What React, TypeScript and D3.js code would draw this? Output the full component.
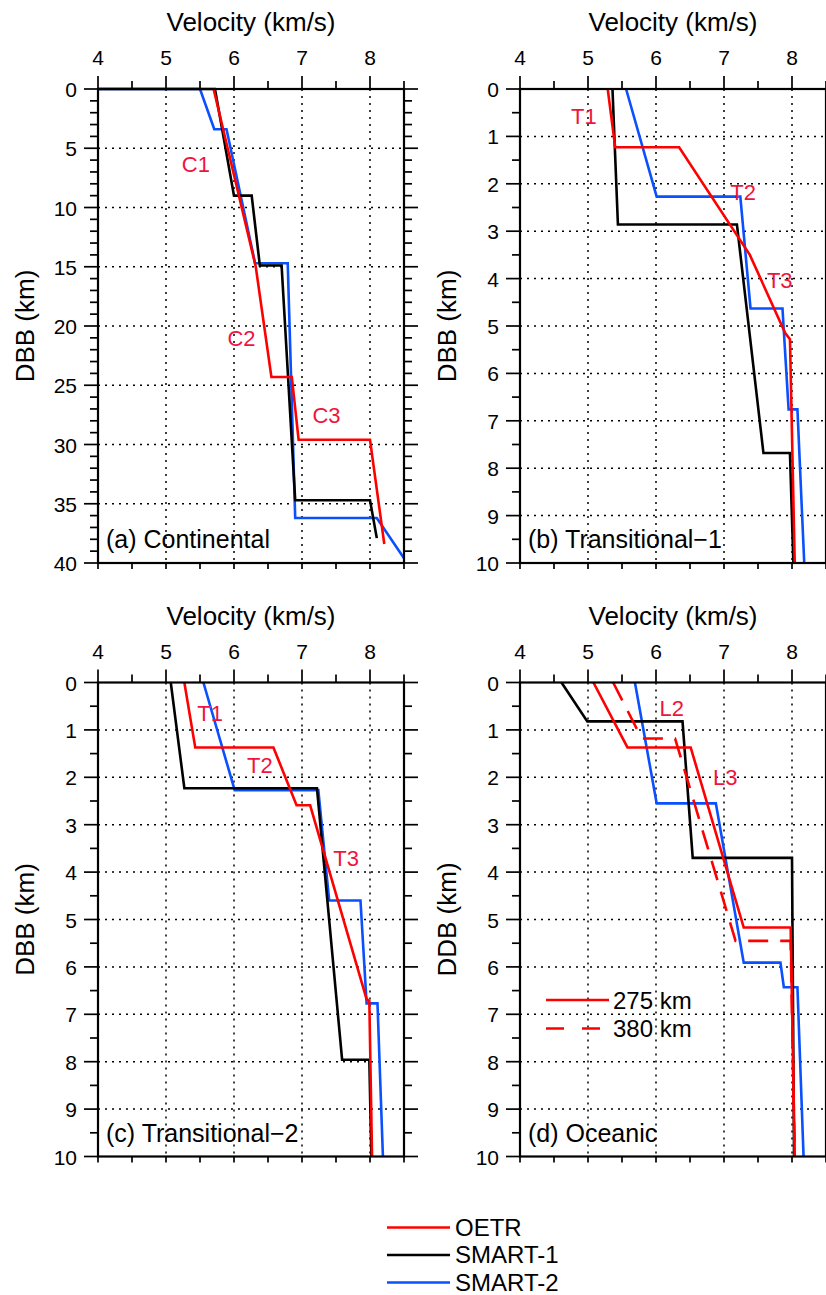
import React from "react";
import * as d3 from "d3";

type Pt = [number, number]; // [velocity km/s, depth km]

const FONT = "'Liberation Sans', Arial, Helvetica, sans-serif";
const RED = "#ff0000";
const BLACK = "#000000";
const BLUE = "#0a50ff";
const LABEL_RED = "#f0143c";
const LINE_W = 2.6;

const velocityDomain: [number, number] = [4, 8.5];
const velocityTicks = [4, 5, 6, 7, 8];
const continentalDepthTicks = [0, 5, 10, 15, 20, 25, 30, 35, 40];
const basinDepthTicks = [0, 1, 2, 3, 4, 5, 6, 7, 8, 9, 10];

// (a) Continental
const continentalOETR: Pt[] = [[5.7, 0], [6.32, 15], [6.55, 24.3], [6.85, 24.3], [6.95, 29.6], [8.0, 29.6], [8.21, 38.4]];
const continentalSMART1: Pt[] = [[4, 0], [5.72, 0], [6.0, 9], [6.26, 9], [6.38, 14.9], [6.7, 14.9], [6.9, 34.7], [8.0, 34.7], [8.1, 37.9]];
const continentalSMART2: Pt[] = [[4, 0], [5.5, 0], [5.71, 3.4], [5.89, 3.4], [6.31, 14.7], [6.79, 14.7], [6.9, 36.2], [8.1, 36.2], [8.5, 39.6]];

// (b) Transitional-1
const trans1OETR: Pt[] = [[5.29, 0], [5.4, 1.23], [6.34, 1.23], [7.38, 3.5], [7.9, 5.15], [7.97, 5.28], [8.04, 10]];
const trans1SMART1: Pt[] = [[5.36, 0], [5.44, 2.86], [7.19, 2.86], [7.58, 7.68], [7.97, 7.68], [8.02, 10]];
const trans1SMART2: Pt[] = [[5.56, 0], [6.01, 2.27], [7.24, 2.27], [7.39, 4.63], [7.86, 4.63], [7.95, 6.76], [8.08, 6.76], [8.18, 10]];

// (c) Transitional-2
const trans2OETR: Pt[] = [[5.27, 0], [5.43, 1.37], [6.58, 1.37], [6.92, 2.59], [7.12, 2.59], [7.95, 6.68], [7.99, 6.72], [8.03, 10]];
const trans2SMART1: Pt[] = [[5.07, 0], [5.27, 2.23], [7.22, 2.23], [7.59, 7.96], [7.99, 7.96], [8.02, 10]];
const trans2SMART2: Pt[] = [[5.55, 0], [6.01, 2.27], [7.24, 2.27], [7.4, 4.6], [7.86, 4.6], [7.95, 6.77], [8.11, 6.77], [8.19, 10]];

// (d) Oceanic
const oceanicOETR275: Pt[] = [[5.08, 0], [5.58, 1.37], [6.51, 1.37], [7.29, 5.17], [7.98, 5.17], [8.04, 10]];
const oceanicOETR380: Pt[] = [[5.37, 0], [5.79, 1.18], [6.28, 1.18], [7.17, 5.45], [7.98, 5.45], [8.04, 10]];
const oceanicSMART1: Pt[] = [[4.61, 0], [4.99, 0.82], [6.39, 0.82], [6.54, 3.7], [8.0, 3.7], [8.03, 10]];
const oceanicSMART2: Pt[] = [[5.69, 0], [6.01, 2.55], [6.88, 2.55], [7.29, 5.91], [7.83, 5.91], [7.88, 6.43], [8.08, 6.43], [8.17, 10]];

// layer annotations: [text, velocity, depth]
type Note = [string, number, number];
const continentalNotes: Note[] = [["C1", 5.44, 6.3], ["C2", 6.11, 21.0], ["C3", 7.36, 27.5]];
const trans1Notes: Note[] = [["T1", 4.94, 0.57], ["T2", 7.28, 2.17], ["T3", 7.82, 4.03]];
const trans2Notes: Note[] = [["T1", 5.65, 0.65], ["T2", 6.38, 1.74], ["T3", 7.65, 3.71]];
const oceanicNotes: Note[] = [["L2", 6.23, 0.54], ["L3", 7.02, 1.99]];

const legendNames = ["OETR", "SMART-1", "SMART-2"];
const legendColors = [RED, BLACK, BLUE];

interface Series {
  pts: Pt[];
  color: string;
  dash?: string;
}

interface PanelProps {
  x0: number;
  y0: number;
  depthTicks: number[];
  minorStep: number;
  series: Series[];
  notes: Note[];
  caption: string;
  yLabel: string;
  children?: React.ReactNode;
}

const W = 306;
const H = 474;

function Panel({ x0, y0, depthTicks, minorStep, series, notes, caption, yLabel, children }: PanelProps) {
  const maxD = depthTicks[depthTicks.length - 1];
  const x = d3.scaleLinear().domain(velocityDomain).range([x0, x0 + W]);
  const y = d3.scaleLinear().domain([0, maxD]).range([y0, y0 + H]);
  const line = d3.line<Pt>().x((p) => x(p[0])).y((p) => y(p[1]));

  const xMinor = d3.range(velocityDomain[0], velocityDomain[1] + 0.001, 0.5);
  const yMinor = d3.range(0, maxD + 0.001, minorStep);
  const x1 = x0 + W;
  const y1 = y0 + H;
  const isMajorX = (v: number) => Math.abs(v - Math.round(v)) < 1e-6 && v <= 8;
  const isMajorY = (d: number) => depthTicks.some((t) => Math.abs(t - d) < 1e-6);

  return (
    <g>
      {/* grid */}
      {velocityTicks.filter((v) => v > velocityDomain[0]).map((v) => (
        <line key={"gx" + v} x1={x(v)} x2={x(v)} y1={y0} y2={y1} stroke="#000" strokeWidth={1.5} strokeDasharray="2,5" />
      ))}
      {depthTicks.filter((d) => d > 0 && d < maxD).map((d) => (
        <line key={"gy" + d} x1={x0} x2={x1} y1={y(d)} y2={y(d)} stroke="#000" strokeWidth={1.5} strokeDasharray="2,5" />
      ))}

      {/* profiles */}
      {series.map((s, i) => (
        <path key={"s" + i} d={line(s.pts) || ""} fill="none" stroke={s.color} strokeWidth={LINE_W}
          strokeDasharray={s.dash} strokeLinejoin="miter" />
      ))}

      {/* frame */}
      <rect x={x0} y={y0} width={W} height={H} fill="none" stroke="#000" strokeWidth={2.2} />

      {/* ticks: top & bottom */}
      {xMinor.map((v) => (
        <g key={"tx" + v}>
          <line x1={x(v)} x2={x(v)} y1={y0} y2={y0 - (isMajorX(v) ? 13 : 8)} stroke="#000" strokeWidth={1.7} />
          <line x1={x(v)} x2={x(v)} y1={y1} y2={y1 + 6} stroke="#000" strokeWidth={1.7} />
        </g>
      ))}
      {/* ticks: left & right */}
      {yMinor.map((d) => (
        <g key={"ty" + d}>
          <line x1={x0} x2={x0 - (isMajorY(d) ? 14 : 8)} y1={y(d)} y2={y(d)} stroke="#000" strokeWidth={1.7} />
          <line x1={x1} x2={x1 + (isMajorY(d) ? 14 : 8)} y1={y(d)} y2={y(d)} stroke="#000" strokeWidth={1.7} />
        </g>
      ))}

      {/* tick labels */}
      {velocityTicks.map((v) => (
        <text key={"lx" + v} x={x(v)} y={y0 - 24} textAnchor="middle" fontSize={21} fontFamily={FONT}>{v}</text>
      ))}
      {depthTicks.map((d) => (
        <text key={"ly" + d} x={x0 - 21} y={y(d) + 8} textAnchor="end" fontSize={21} fontFamily={FONT}>{d}</text>
      ))}

      {/* axis titles */}
      <text x={(x0 + x1) / 2} y={y0 - 58} textAnchor="middle" fontSize={26} fontFamily={FONT}>Velocity (km/s)</text>
      <text transform={`translate(${x0 - 64},${(y0 + y1) / 2}) rotate(-90)`} textAnchor="middle" fontSize={26} fontFamily={FONT}>{yLabel}</text>

      {/* layer annotations */}
      {notes.map(([t, v, d]) => (
        <text key={"n" + t} x={x(v)} y={y(d) + 8} textAnchor="middle" fontSize={22} fill={LABEL_RED} fontFamily={FONT}>{t}</text>
      ))}

      <text x={x0 + 8} y={y1 - 15} fontSize={25} fontFamily={FONT}>{caption}</text>
      {children}
    </g>
  );
}

export default function App() {
  const ax = 98, bx = 520, topY = 89, lowY = 682.5;
  return (
    <svg width={826} height={1295} style={{ position: "absolute", left: 0, top: 0, background: "#fff" }}>
      <rect width={826} height={1295} fill="#fff" />
      <Panel x0={ax} y0={topY} depthTicks={continentalDepthTicks} minorStep={1}
        series={[
          { pts: continentalSMART2, color: BLUE },
          { pts: continentalSMART1, color: BLACK },
          { pts: continentalOETR, color: RED },
        ]}
        notes={continentalNotes} caption="(a) Continental" yLabel="DBB (km)" />
      <Panel x0={bx} y0={topY} depthTicks={basinDepthTicks} minorStep={0.5}
        series={[
          { pts: trans1SMART2, color: BLUE },
          { pts: trans1SMART1, color: BLACK },
          { pts: trans1OETR, color: RED },
        ]}
        notes={trans1Notes} caption="(b) Transitional−1" yLabel="DBB (km)" />
      <Panel x0={ax} y0={lowY} depthTicks={basinDepthTicks} minorStep={0.5}
        series={[
          { pts: trans2SMART2, color: BLUE },
          { pts: trans2SMART1, color: BLACK },
          { pts: trans2OETR, color: RED },
        ]}
        notes={trans2Notes} caption="(c) Transitional−2" yLabel="DBB (km)" />
      <Panel x0={bx} y0={lowY} depthTicks={basinDepthTicks} minorStep={0.5}
        series={[
          { pts: oceanicSMART2, color: BLUE },
          { pts: oceanicSMART1, color: BLACK },
          { pts: oceanicOETR380, color: RED, dash: "20,12" },
          { pts: oceanicOETR275, color: RED },
        ]}
        notes={oceanicNotes} caption="(d) Oceanic" yLabel="DDB (km)">
        {/* OETR lithosphere thickness key */}
        <line x1={bx + 26} x2={bx + 89} y1={lowY + 317.5} y2={lowY + 317.5} stroke={RED} strokeWidth={LINE_W} />
        <text x={bx + 93} y={lowY + 326} fontSize={24} fontFamily={FONT}>275 km</text>
        <line x1={bx + 26} x2={bx + 89} y1={lowY + 346} y2={lowY + 346} stroke={RED} strokeWidth={LINE_W} strokeDasharray="18,18" />
        <text x={bx + 93} y={lowY + 354.5} fontSize={24} fontFamily={FONT}>380 km</text>
      </Panel>

      {/* model key */}
      {legendNames.map((name, i) => (
        <g key={name}>
          <line x1={387} x2={450} y1={1227.5 + i * 27.5} y2={1227.5 + i * 27.5} stroke={legendColors[i]} strokeWidth={LINE_W} />
          <text x={455} y={1227.5 + i * 27.5 + 8} fontSize={24} fontFamily={FONT}>{name}</text>
        </g>
      ))}
    </svg>
  );
}
